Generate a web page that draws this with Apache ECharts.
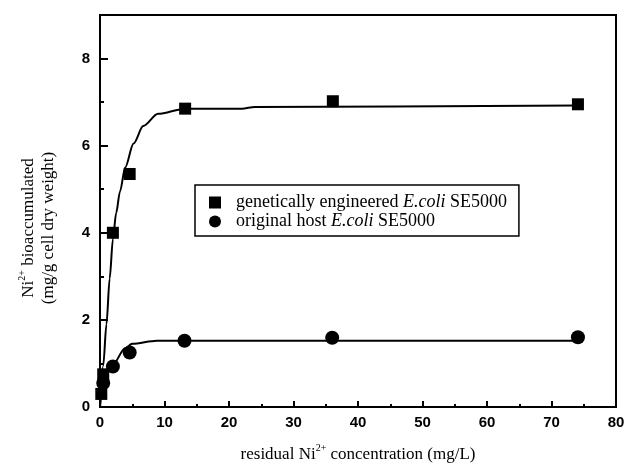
<!DOCTYPE html>
<html><head><meta charset="utf-8">
<script src="https://cdn.jsdelivr.net/npm/echarts@6/dist/echarts.min.js"></script>
<style>html,body{margin:0;padding:0;background:#fff}#c{width:626px;height:465px}</style>
</head><body><div id="c"></div>
<script>
// measured points
const engX = [0.2, 0.5, 2.0, 4.6, 13.2, 36.1, 74.1];
const engY = [0.3, 0.75, 4.0, 5.35, 6.85, 7.02, 6.95];
const hostX = [0.5, 2.0, 4.6, 13.1, 36.0, 74.1];
const hostY = [0.55, 0.93, 1.25, 1.52, 1.59, 1.6];
// fitted curves
const engFitX = [0, 0.5, 1.0, 1.5, 2.0, 2.5, 3.1, 3.9, 5.2, 6.7, 9.0, 13.2, 22, 24, 74];
const engFitY = [0, 0.95, 1.9, 2.95, 3.85, 4.45, 4.95, 5.5, 6.05, 6.45, 6.73, 6.85, 6.85, 6.89, 6.92];
const hostFitX = [0, 0.3, 0.6, 1.9, 3.9, 5.0, 8.8, 74];
const hostFitY = [0, 0.45, 0.65, 0.95, 1.35, 1.45, 1.52, 1.52];
const xTicks = [0, 10, 20, 30, 40, 50, 60, 70, 80];
const yTicks = [0, 2, 4, 6, 8];
const legendNames = ['genetically engineered {i|E.coli} SE5000', 'original host {i|E.coli} SE5000'];

const zip = (a, b) => a.map((v, i) => [v, b[i]]);
const serif = 'Liberation Serif';
const sans = 'Liberation Sans';

const chart = echarts.init(document.getElementById('c'), null, {renderer: 'canvas'});
chart.setOption({
  animation: false,
  backgroundColor: '#fff',
  grid: {left: 100, right: 10, top: 15, bottom: 58, outerBoundsMode: 'none', containLabel: false,
    show: true, borderColor: '#000', borderWidth: 2, backgroundColor: 'transparent'},
  legend: {
    orient: 'vertical', left: 195, top: 185,
    data: [{name: legendNames[0], icon: 'rect'}, {name: legendNames[1], icon: 'circle'}],
    itemWidth: 12, itemHeight: 12, itemGap: 0,
    padding: [8, 12, 5, 14],
    borderColor: '#000', borderWidth: 1.5,
    textStyle: {fontFamily: serif, fontSize: 18, lineHeight: 19, color: '#000', padding: [0, 0, 0, 10],
      rich: {i: {fontFamily: serif, fontSize: 18, lineHeight: 19, fontStyle: 'italic', color: '#000'}}}
  },
  xAxis: {
    type: 'value', min: xTicks[0], max: xTicks[xTicks.length - 1], interval: 10,
    axisLine: {lineStyle: {color: '#000', width: 2}},
    axisTick: {inside: true, length: 6, lineStyle: {color: '#000', width: 2}},
    minorTick: {show: true, splitNumber: 2, length: 3, lineStyle: {color: '#000', width: 2}},
    splitLine: {show: false},
    axisLabel: {fontFamily: sans, fontWeight: 'bold', fontSize: 15, color: '#000', margin: 8},
    name: '{n|residual Ni}{s|2+}{n| concentration (mg/L)}',
    nameLocation: 'middle', nameGap: 36,
    nameTextStyle: {rich: {
      n: {fontFamily: serif, fontSize: 17, color: '#000', lineHeight: 20, verticalAlign: 'bottom'},
      s: {fontFamily: serif, fontSize: 10, color: '#000', lineHeight: 20, verticalAlign: 'top'}}}
  },
  yAxis: [{
    type: 'value', min: 0, max: 9, interval: 1,
    axisLine: {lineStyle: {color: '#000', width: 2}},
    axisTick: {inside: true, length: 4, lineStyle: {color: '#000', width: 2}},
    axisLabel: {show: false}, splitLine: {show: false}
  }, {
    type: 'value', min: 0, max: 9, interval: 2, position: 'left',
    axisLine: {lineStyle: {color: '#000', width: 2}},
    axisTick: {inside: true, length: 8, lineStyle: {color: '#000', width: 2}},
    splitLine: {show: false},
    axisLabel: {fontFamily: sans, fontWeight: 'bold', fontSize: 15, color: '#000', margin: 10,
      formatter: v => (yTicks.indexOf(v) >= 0 ? String(v) : '')}
  }],
  graphic: [{
    type: 'text', x: 37, y: 228, rotation: Math.PI / 2,
    style: {
      text: '{n|Ni}{s|2+}{n| bioaccumulated}\n{n|(mg/g cell dry weight)}',
      align: 'center', verticalAlign: 'middle',
      rich: {
        n: {fontFamily: serif, fontSize: 17, fill: '#000', lineHeight: 20, verticalAlign: 'bottom'},
        s: {fontFamily: serif, fontSize: 10, fill: '#000', lineHeight: 20, verticalAlign: 'top'}
      }
    }
  }],
  series: [
    {type: 'line', data: zip(engFitX, engFitY), smooth: 0.3, smoothMonotone: 'x', showSymbol: false, silent: true,
      lineStyle: {color: '#000', width: 2}, yAxisIndex: 1, z: 2},
    {type: 'line', data: zip(hostFitX, hostFitY), smooth: 0.3, smoothMonotone: 'x', showSymbol: false, silent: true,
      lineStyle: {color: '#000', width: 2}, yAxisIndex: 1, z: 2},
    {name: legendNames[0], type: 'scatter', symbol: 'rect', symbolSize: 12, data: zip(engX, engY),
      itemStyle: {color: '#000', opacity: 1}, yAxisIndex: 1, z: 3},
    {name: legendNames[1], type: 'scatter', symbol: 'circle', symbolSize: 14, data: zip(hostX, hostY),
      itemStyle: {color: '#000', opacity: 1}, yAxisIndex: 1, z: 3}
  ]
});
</script></body></html>
